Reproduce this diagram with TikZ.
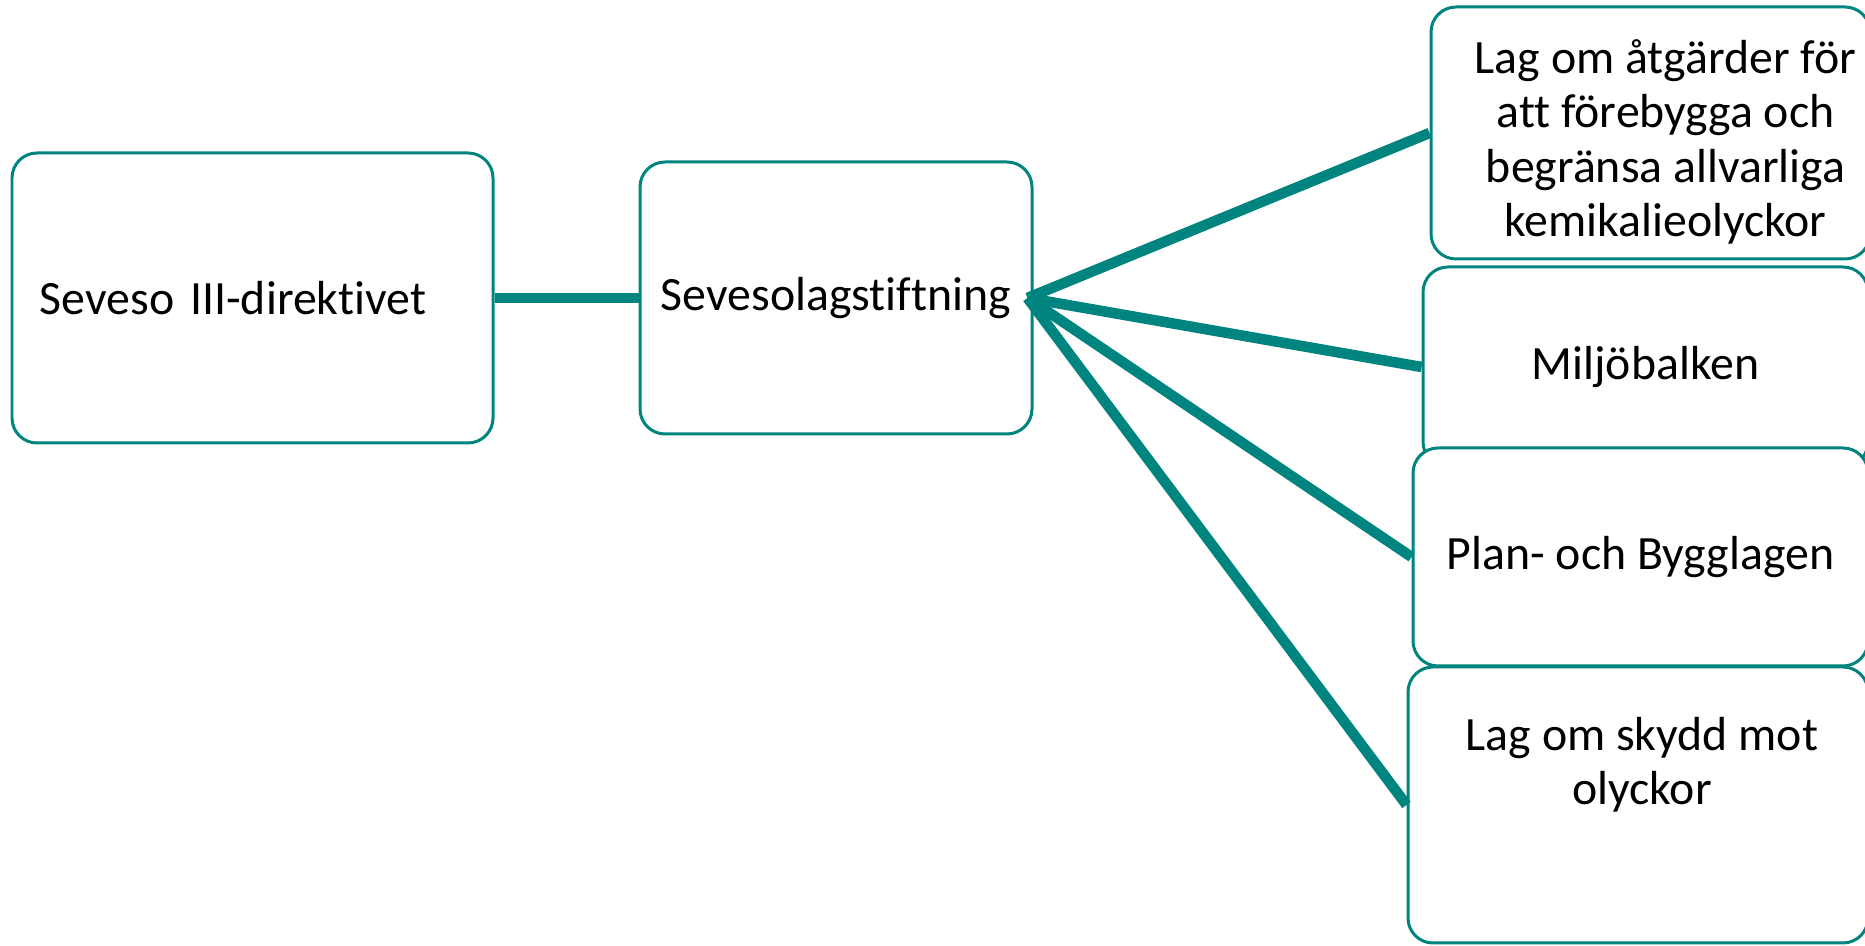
\documentclass[tikz,border=0pt]{standalone}
\usepackage{fontspec}
\setmainfont{Carlito}[Ligatures={NoCommon,NoContextual}, Contextuals=NoAlternate, RawFeature={-liga;-clig;-calt;-dlig}]
\usetikzlibrary{positioning}
\definecolor{seveso}{RGB}{0,132,127}

\begin{document}
\begin{tikzpicture}[
  lawbox/.style={draw=seveso, line width=1.7pt, rounded corners=0.5cm, fill=white,
    align=center, inner sep=0pt, font=\fontsize{27.2}{31}\selectfont},
  lawtext/.style={align=center, inner sep=0pt, font=\fontsize{27.2}{31}\selectfont},
  link/.style={draw=seveso, line width=6pt}
]
\useasboundingbox (0,0) rectangle (37.3,18.92);

% directive and national law
\node[lawbox, minimum width=9.62cm, minimum height=5.8cm, text width=8.5cm, align=left]
  (dir) at (5.05,12.96) {Seveso III-direktivet};
\node[lawbox, minimum width=7.84cm, minimum height=5.44cm]
  (sev) at (16.72,12.96) {Sevesolagstiftning};

% the laws on the right
\node[lawbox, minimum width=8.78cm, minimum height=5.04cm]
  (atg) at (33.01,16.26) {};
\node[lawtext] (atgtext) at ([xshift=0.3cm,yshift=-0.18cm]atg.center)
  {Lag om åtgärder för\\att förebygga och\\begränsa allvarliga\\kemikalieolyckor};
\node[lawbox, minimum width=8.9cm, minimum height=4.0cm]
  (mil) at (32.91,11.58) {Miljöbalken};
\node[lawbox, minimum width=9.1cm, minimum height=4.36cm]
  (pbl) at (32.81,7.78) {Plan- och Bygglagen};
\node[lawbox, minimum width=9.2cm, minimum height=5.52cm]
  (lsk) at (32.76,2.82) {};
\node[lawtext] (lsktext) at ([xshift=0.08cm,yshift=0.8cm]lsk.center) {Lag om skydd mot\\olyckor};

% connectors
\coordinate (hub) at ([xshift=-0.12cm]sev.east);
\draw[link] (dir.east) -- (sev.west);
\foreach \n in {atg,mil,pbl,lsk}
  \draw[link] (hub) -- (\n.west);

\end{tikzpicture}
\end{document}
